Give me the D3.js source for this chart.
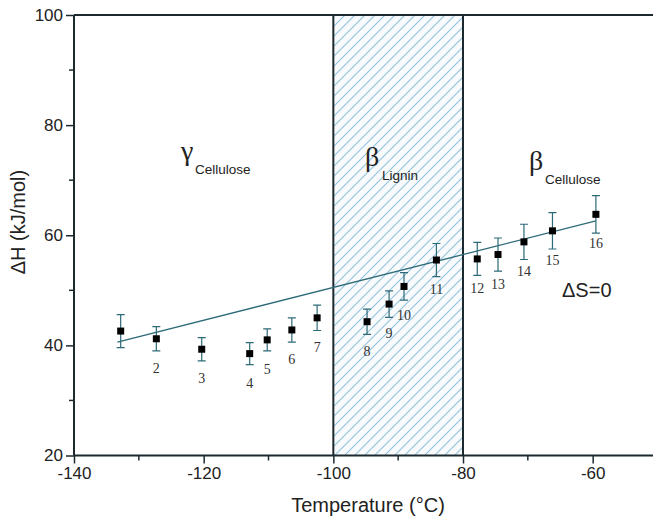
<!DOCTYPE html>
<html>
<head>
<meta charset="utf-8">
<script src="https://cdnjs.cloudflare.com/ajax/libs/d3/7.8.5/d3.min.js"></script>
<style>
  body { margin: 0; background: #fff; }
  svg { display: block; }
</style>
</head>
<body>
<svg id="chart"></svg>
<script>
let temps = [-132.8, -127.3, -120.3, -112.9, -110.2, -106.4, -102.5, -94.8, -91.4, -89.1, -84.1, -77.8, -74.6, -70.6, -66.2, -59.5]
let dH = [42.6, 41.2, 39.3, 38.5, 41.0, 42.8, 45.0, 44.3, 47.5, 50.7, 55.5, 55.7, 56.5, 58.8, 60.8, 63.8]
let dHerr = [3.0, 2.2, 2.1, 2.0, 2.0, 2.2, 2.3, 2.3, 2.4, 2.5, 3.0, 3.0, 3.0, 3.2, 3.3, 3.4]
let pointLabels = ["", "2", "3", "4", "5", "6", "7", "8", "9", "10", "11", "12", "13", "14", "15", "16"]

// linear fit (ΔS=0), end points
let fitT = [-133.3, -59.5]
let fitH = [40.6, 62.6]

// hatched region (lignin relaxation)
let ligninRange = [-100, -80]

let xTicks = [-140, -120, -100, -80, -60]
let xMinor = [-130, -110, -90, -70, -50]
let yTicks = [20, 40, 60, 80, 100]
let yMinor = [30, 50, 70, 90]

let width = 653
let height = 522
let axisColor = "#1c2a30"
let barColor = "#2d6a78"

let svg = d3.select("#chart").attr("width", width).attr("height", height)

let x = d3.scaleLinear().domain([-140, -50]).range([74, 657.5])
let y = d3.scaleLinear().domain([20, 100]).range([455.5, 15])

// hatch pattern
let defs = svg.append("defs")
let pat = defs.append("pattern")
  .attr("id", "hatch")
  .attr("patternUnits", "userSpaceOnUse")
  .attr("width", 10)
  .attr("height", 10)
pat.append("rect").attr("width", 10).attr("height", 10).attr("fill", "#f8fafc")
pat.append("path")
  .attr("d", "M-2,2 L2,-2 M0,10 L10,0 M8,12 L12,8")
  .attr("stroke", "#92c4de")
  .attr("stroke-width", 1.1)

svg.append("rect")
  .attr("x", x(ligninRange[0]))
  .attr("y", y(100))
  .attr("width", x(ligninRange[1]) - x(ligninRange[0]))
  .attr("height", y(20) - y(100))
  .attr("fill", "url(#hatch)")

svg.selectAll(".edge")
  .data(ligninRange)
  .join("line")
  .classed("edge", true)
  .attr("x1", d => x(d)).attr("x2", d => x(d))
  .attr("y1", y(100)).attr("y2", y(20))
  .style("stroke", axisColor)
  .style("stroke-width", 2)

// axes
let xAxis = d3.axisBottom(x).tickValues(xTicks).tickSize(8).tickPadding(3).tickFormat(d => String(d))
let gx = svg.append("g").attr("transform", `translate(0,${y(20)})`).call(xAxis)

let yAxis = d3.axisLeft(y).tickValues(yTicks).tickSize(8).tickPadding(3)
let gy = svg.append("g").attr("transform", `translate(${x(-140)},0)`).call(yAxis)

for (let g of [gx, gy]) {
  g.select(".domain").style("stroke", axisColor).style("stroke-width", 2)
  g.selectAll(".tick line").style("stroke", axisColor).style("stroke-width", 1.5)
  g.selectAll(".tick text")
    .style("font-family", "Liberation Sans, Arial, sans-serif")
    .style("font-size", "17px")
    .style("fill", "#222")
}
gx.select(".domain").attr("d", `M${x(-140)},0H${width}`)
gy.select(".domain").attr("d", `M0,${y(20)}V${y(100)}`)

// minor ticks
svg.selectAll(".xminor")
  .data(xMinor)
  .join("line")
  .classed("xminor", true)
  .attr("x1", d => x(d)).attr("x2", d => x(d))
  .attr("y1", y(20)).attr("y2", y(20) + 5)
  .style("stroke", axisColor).style("stroke-width", 1.5)

svg.selectAll(".yminor")
  .data(yMinor)
  .join("line")
  .classed("yminor", true)
  .attr("x1", x(-140) - 5).attr("x2", x(-140))
  .attr("y1", d => y(d)).attr("y2", d => y(d))
  .style("stroke", axisColor).style("stroke-width", 1.5)

// top frame line
svg.append("line")
  .attr("x1", x(-140)).attr("x2", width)
  .attr("y1", y(100)).attr("y2", y(100))
  .style("stroke", axisColor).style("stroke-width", 2)

// axis titles
svg.append("text")
  .attr("x", 368).attr("y", 512)
  .attr("text-anchor", "middle")
  .style("font-family", "Liberation Sans, Arial, sans-serif")
  .style("font-size", "20px")
  .style("fill", "#222")
  .text("Temperature (°C)")

svg.append("text")
  .attr("transform", "translate(25,222) rotate(-90)")
  .attr("text-anchor", "middle")
  .style("font-family", "Liberation Sans, Arial, sans-serif")
  .style("font-size", "20px")
  .style("fill", "#222")
  .text("ΔH (kJ/mol)")

// fit line
svg.append("line")
  .attr("x1", x(fitT[0])).attr("y1", y(fitH[0]))
  .attr("x2", x(fitT[1])).attr("y2", y(fitH[1]))
  .style("stroke", barColor)
  .style("stroke-width", 1.3)

let pts = temps.map((t, i) => ({t: t, h: dH[i], e: dHerr[i], label: pointLabels[i]}))

// error bars
let bars = svg.append("g")
bars.selectAll("path")
  .data(pts)
  .join("path")
  .attr("d", d => {
    let cx = x(d.t), top = y(d.h + d.e), bot = y(d.h - d.e)
    return `M${cx - 4},${top}H${cx + 4}M${cx},${top}V${bot}M${cx - 4},${bot}H${cx + 4}`
  })
  .style("fill", "none")
  .style("stroke", barColor)
  .style("stroke-width", 1.2)

// squares
svg.selectAll(".pt")
  .data(pts)
  .join("rect")
  .classed("pt", true)
  .attr("x", d => x(d.t) - 3.5)
  .attr("y", d => y(d.h) - 3.5)
  .attr("width", 7)
  .attr("height", 7)
  .style("fill", "#000")

// point numbers
svg.selectAll(".num")
  .data(pts)
  .join("text")
  .classed("num", true)
  .attr("x", d => x(d.t))
  .attr("y", d => y(d.h) + 34)
  .attr("text-anchor", "middle")
  .style("font-family", "Liberation Serif, Times New Roman, serif")
  .style("font-size", "14px")
  .style("fill", "#333")
  .text(d => d.label)

// region annotations
function region(sym, sub, sx, sy, bx, by) {
  svg.append("text")
    .attr("x", sx).attr("y", sy)
    .style("font-family", "Liberation Serif, Times New Roman, serif")
    .style("font-size", "28px")
    .style("fill", "#222")
    .text(sym)
  svg.append("text")
    .attr("x", bx).attr("y", by)
    .style("font-family", "Liberation Sans, Arial, sans-serif")
    .style("font-size", "13.5px")
    .style("fill", "#222")
    .text(sub)
}
region("γ", "Cellulose", 181, 160, 195, 174)
region("β", "Lignin", 365, 166, 382, 180)
region("β", "Cellulose", 529, 170, 545, 184)

svg.append("text")
  .attr("x", 562).attr("y", 297)
  .style("font-family", "Liberation Sans, Arial, sans-serif")
  .style("font-size", "20px")
  .style("fill", "#222")
  .text("ΔS=0")
</script>
</body>
</html>
